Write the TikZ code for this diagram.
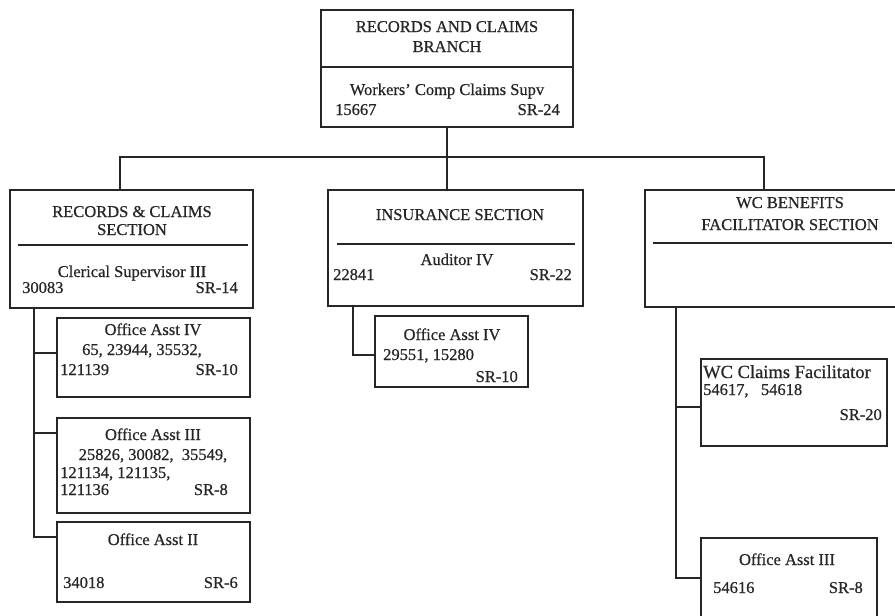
\documentclass[tikz,border=0pt]{standalone}
\usepackage{fontspec}
\setmainfont{Liberation Serif}
\newfontfamily\chartfont{Liberation Serif}[FakeBold=0.6,Ligatures=TeX]
\definecolor{ink}{HTML}{262626}
\begin{document}
\begin{tikzpicture}[x=1pt,y=-1pt,
  box/.style={draw=ink, line width=1.8pt, rectangle, inner sep=0pt, outer sep=0pt, anchor=north west},
  conn/.style={draw=ink, line width=1.4pt},
  rule/.style={draw=ink, line width=1.3pt},
  lbl/.style={inner sep=0pt, text=ink, font=\chartfont\fontsize{16.5}{19}\selectfont},
  ctr/.style={lbl, anchor=base},
  lft/.style={lbl, anchor=base west},
  rgt/.style={lbl, anchor=base east}]
\path[use as bounding box] (0,0) rectangle (895,616);
\clip (0,0) rectangle (895,616);

% boxes
\node[box, minimum width=252pt, minimum height=117pt] (branch) at (321,10) {};
\node[box, minimum width=243pt, minimum height=118pt] (rcs) at (10,190) {};
\node[box, minimum width=255pt, minimum height=116pt] (ins) at (328,190) {};
\node[box, minimum width=252pt, minimum height=117pt] (wcb) at (645,190) {};
\node[box, minimum width=193pt, minimum height=79pt] (oa4) at (57,318) {};
\node[box, minimum width=193pt, minimum height=95pt] (oa3) at (57,418) {};
\node[box, minimum width=193pt, minimum height=80pt] (oa2) at (57,522) {};
\node[box, minimum width=153pt, minimum height=71pt] (ioa) at (375,316) {};
\node[box, minimum width=186pt, minimum height=87pt] (wcf) at (701,359) {};
\node[box, minimum width=176pt, minimum height=90pt] (woa) at (701,538) {};

% title rules inside the unit boxes
\draw[rule] ([yshift=-57pt]branch.north west) -- ([yshift=-57pt]branch.north east);
\draw[rule] ([xshift=8pt,yshift=-55pt]rcs.north west) -- ([xshift=-5pt,yshift=-55pt]rcs.north east);
\draw[rule] ([xshift=9pt,yshift=-54pt]ins.north west) -- ([xshift=-8pt,yshift=-54pt]ins.north east);
\draw[rule] ([xshift=8pt,yshift=-53pt]wcb.north west) -- ([xshift=-5pt,yshift=-53pt]wcb.north east);

% branch to sections
\coordinate (bus) at (447,157);
\coordinate (busL) at (120,157);
\coordinate (busR) at (764,157);
\draw[conn] (branch.south) -- (bus);
\draw[conn] (rcs.north -| busL) -- (busL) -- (busR) -- (wcb.north -| busR);
\draw[conn] (bus) -- (ins.north -| bus);

% records & claims section staff
\coordinate (lv) at ([xshift=24pt]rcs.south west);
\coordinate (s4) at ([yshift=-35pt]oa4.north west);
\coordinate (s3) at ([yshift=-15pt]oa3.north west);
\coordinate (s2) at ([yshift=-15pt]oa2.north west);
\draw[conn] (lv) |- (s2);
\draw[conn] (lv |- s4) -- (s4);
\draw[conn] (lv |- s3) -- (s3);

% insurance section staff
\coordinate (iv) at ([xshift=25pt]ins.south west);
\coordinate (si) at ([yshift=-39pt]ioa.north west);
\draw[conn] (iv) |- (si);

% facilitator section staff
\coordinate (rv) at ([xshift=31pt]wcb.south west);
\coordinate (sf) at ([yshift=-48pt]wcf.north west);
\coordinate (so) at ([yshift=-40pt]woa.north west);
\draw[conn] (rv) |- (so);
\draw[conn] (rv |- sf) -- (sf);

% labels: branch
\node[ctr] (b1) at (447,32) {RECORDS AND CLAIMS};
\node[ctr] (b2) at (447,52) {BRANCH};
\node[ctr] (b3) at (447,95) {Workers’ Comp Claims Supv};
\node[lft] (b4) at (335,115) {15667};
\node[rgt] (b5) at (560,115) {SR-24};

% labels: records & claims section
\node[ctr] (r1) at (132,217) {RECORDS \& CLAIMS};
\node[ctr] (r2) at (132,235) {SECTION};
\node[ctr] (r3) at (132,277) {Clerical Supervisor III};
\node[lft] (r4) at (22,293) {30083};
\node[rgt] (r5) at (238,293) {SR-14};

% labels: insurance section
\node[ctr] (i1) at (460,220) {INSURANCE SECTION};
\node[ctr] (i2) at (457,265) {Auditor IV};
\node[lft] (i3) at (333,280) {22841};
\node[rgt] (i4) at (572,280) {SR-22};

% labels: facilitator section
\node[ctr] (w1) at (790,208) {WC BENEFITS};
\node[ctr] (w2) at (790,230) {FACILITATOR SECTION};

% labels: office assistants, records & claims
\node[ctr] (a1) at (153,335) {Office Asst IV};
\node[ctr] (a2) at (142,355) {65, 23944, 35532,};
\node[lft] (a3) at (60,375) {121139};
\node[rgt] (a4) at (238,375) {SR-10};

\node[ctr] (c1) at (153,440) {Office Asst III};
\node[ctr] (c2) at (153,460) {25826, 30082,\ \ 35549,};
\node[lft] (c3) at (60,478) {121134, 121135,};
\node[lft] (c4) at (60,495) {121136};
\node[rgt] (c5) at (228,495) {SR-8};

\node[ctr] (d1) at (153,545) {Office Asst II};
\node[lft] (d2) at (63,588) {34018};
\node[rgt] (d3) at (238,588) {SR-6};

% labels: insurance office assistant
\node[ctr] (e1) at (452,340) {Office Asst IV};
\node[lft] (e2) at (383,360) {29551, 15280};
\node[rgt] (e3) at (518,382) {SR-10};

% labels: facilitator section staff
\node[lft, font=\chartfont\fontsize{18.5}{21}\selectfont] (f1) at (703,378) {WC Claims Facilitator};
\node[lft] (f2) at (703,395) {54617,\ \ \ 54618};
\node[rgt] (f3) at (882,420) {SR-20};

\node[ctr] (g1) at (787,565) {Office Asst III};
\node[lft] (g2) at (713,593) {54616};
\node[rgt] (g3) at (863,593) {SR-8};
\end{tikzpicture}
\end{document}
